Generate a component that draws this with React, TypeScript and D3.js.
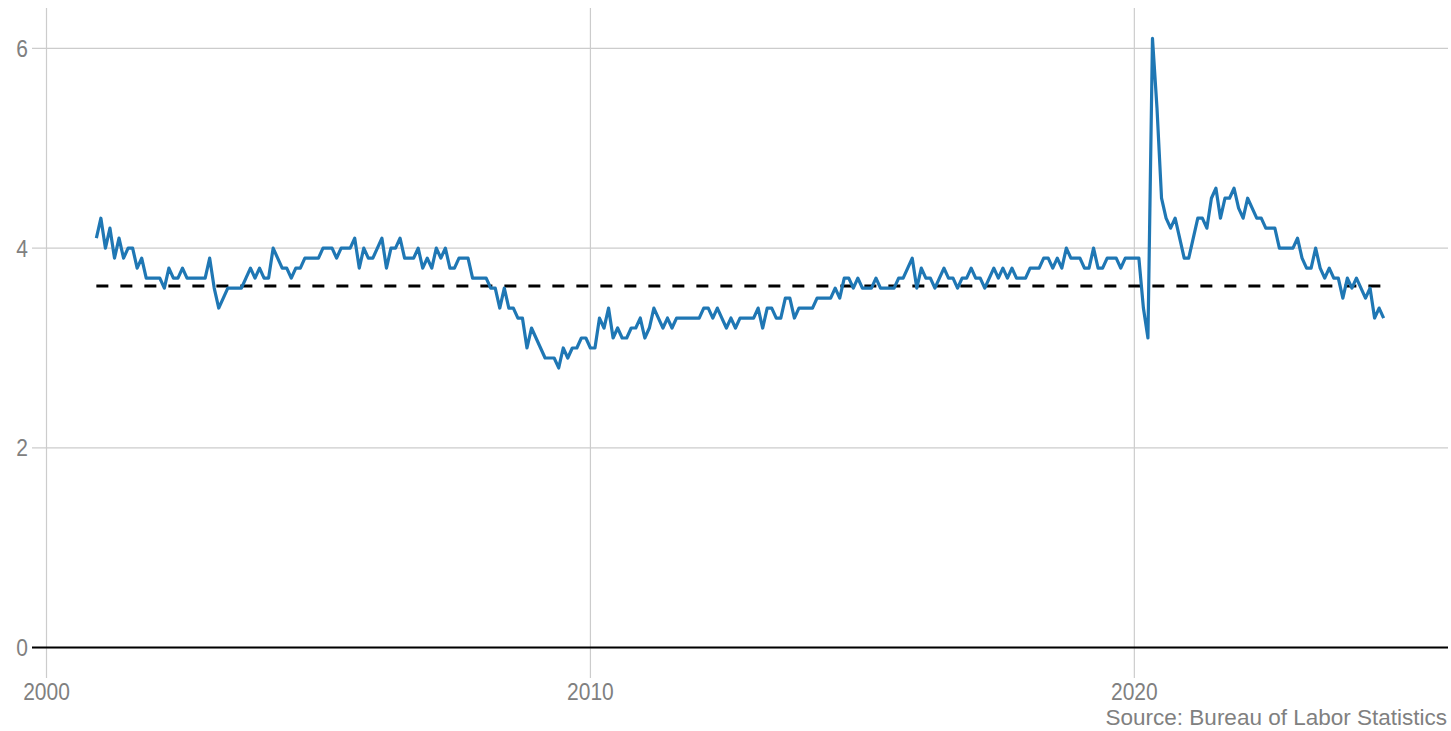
import React, { useEffect, useRef } from 'react';
import * as d3 from 'd3';

// monthly series, first point is Dec 2000
const startYear = 2000;
const startMonth = 11; // 0-based, December

const rates: number[] = [
  4.1,
  4.3, 4.0, 4.2, 3.9, 4.1, 3.9, 4.0, 4.0, 3.8, 3.9, 3.7, 3.7,
  3.7, 3.7, 3.6, 3.8, 3.7, 3.7, 3.8, 3.7, 3.7, 3.7, 3.7, 3.7,
  3.9, 3.6, 3.4, 3.5, 3.6, 3.6, 3.6, 3.6, 3.7, 3.8, 3.7, 3.8,
  3.7, 3.7, 4.0, 3.9, 3.8, 3.8, 3.7, 3.8, 3.8, 3.9, 3.9, 3.9,
  3.9, 4.0, 4.0, 4.0, 3.9, 4.0, 4.0, 4.0, 4.1, 3.8, 4.0, 3.9,
  3.9, 4.0, 4.1, 3.8, 4.0, 4.0, 4.1, 3.9, 3.9, 3.9, 4.0, 3.8,
  3.9, 3.8, 4.0, 3.9, 4.0, 3.8, 3.8, 3.9, 3.9, 3.9, 3.7, 3.7,
  3.7, 3.7, 3.6, 3.6, 3.4, 3.6, 3.4, 3.4, 3.3, 3.3, 3.0, 3.2,
  3.1, 3.0, 2.9, 2.9, 2.9, 2.8, 3.0, 2.9, 3.0, 3.0, 3.1, 3.1,
  3.0, 3.0, 3.3, 3.2, 3.4, 3.1, 3.2, 3.1, 3.1, 3.2, 3.2, 3.3,
  3.1, 3.2, 3.4, 3.3, 3.2, 3.3, 3.2, 3.3, 3.3, 3.3, 3.3, 3.3,
  3.3, 3.4, 3.4, 3.3, 3.4, 3.3, 3.2, 3.3, 3.2, 3.3, 3.3, 3.3,
  3.3, 3.4, 3.2, 3.4, 3.4, 3.3, 3.3, 3.5, 3.5, 3.3, 3.4, 3.4,
  3.4, 3.4, 3.5, 3.5, 3.5, 3.5, 3.6, 3.5, 3.7, 3.7, 3.6, 3.7,
  3.6, 3.6, 3.6, 3.7, 3.6, 3.6, 3.6, 3.6, 3.7, 3.7, 3.8, 3.9,
  3.6, 3.8, 3.7, 3.7, 3.6, 3.7, 3.8, 3.7, 3.7, 3.6, 3.7, 3.7,
  3.8, 3.7, 3.7, 3.6, 3.7, 3.8, 3.7, 3.8, 3.7, 3.8, 3.7, 3.7,
  3.7, 3.8, 3.8, 3.8, 3.9, 3.9, 3.8, 3.9, 3.8, 4.0, 3.9, 3.9,
  3.9, 3.8, 3.8, 4.0, 3.8, 3.8, 3.9, 3.9, 3.9, 3.8, 3.9, 3.9,
  3.9, 3.9, 3.4, 3.1, 6.1, 5.4, 4.5, 4.3, 4.2, 4.3, 4.1, 3.9,
  3.9, 4.1, 4.3, 4.3, 4.2, 4.5, 4.6, 4.3, 4.5, 4.5, 4.6, 4.4,
  4.3, 4.5, 4.4, 4.3, 4.3, 4.2, 4.2, 4.2, 4.0, 4.0, 4.0, 4.0,
  4.1, 3.9, 3.8, 3.8, 4.0, 3.8, 3.7, 3.8, 3.7, 3.7, 3.5, 3.7,
  3.6, 3.7, 3.6, 3.5, 3.6, 3.3, 3.4, 3.3,
];

// dashed reference level
const averageRate = 3.62;

const xTicks = [2000, 2010, 2020];
const yTicks = [0, 2, 4, 6];
const sourceText = 'Source: Bureau of Labor Statistics';

const W = 1451;
const H = 731;

export default function App() {
  const ref = useRef<SVGSVGElement>(null);

  useEffect(() => {
    document.body.style.margin = '0';
    const svg = d3.select(ref.current);
    svg.selectAll('*').remove();

    const data = rates.map((v, i) => ({ t: startYear + (startMonth + i) / 12, v }));

    const tMin = d3.min(data, d => d.t)!;
    const tMax = d3.max(data, d => d.t)!;
    const padX = (tMax - tMin) * 0.05;
    const vMax = d3.max(rates)!;
    const padY = vMax * 0.05;

    const x = d3.scaleLinear()
      .domain([tMin - padX, tMax + padX])
      .range([32, 1448]);
    const y = d3.scaleLinear()
      .domain([-padY, vMax + padY])
      .range([678, 8]);

    const font = 'Liberation Sans, Arial, sans-serif';
    const labelColor = '#808080';

    // grid
    svg.append('g')
      .selectAll('line')
      .data(yTicks)
      .join('line')
      .attr('x1', x.range()[0])
      .attr('x2', x.range()[1])
      .attr('y1', d => y(d))
      .attr('y2', d => y(d))
      .attr('stroke', '#cccccc')
      .attr('stroke-width', 1.2);

    svg.append('g')
      .selectAll('line')
      .data(xTicks)
      .join('line')
      .attr('x1', d => x(d))
      .attr('x2', d => x(d))
      .attr('y1', y.range()[1])
      .attr('y2', y.range()[0])
      .attr('stroke', '#cccccc')
      .attr('stroke-width', 1.2);

    // zero line
    svg.append('line')
      .attr('x1', x.range()[0])
      .attr('x2', x.range()[1])
      .attr('y1', y(0))
      .attr('y2', y(0))
      .attr('stroke', '#000')
      .attr('stroke-width', 2);

    // average
    svg.append('line')
      .attr('x1', x(tMin))
      .attr('x2', x(tMax))
      .attr('y1', y(averageRate))
      .attr('y2', y(averageRate))
      .attr('stroke', '#000')
      .attr('stroke-width', 3)
      .attr('stroke-dasharray', '12,12');

    const line = d3.line<{ t: number; v: number }>()
      .x(d => x(d.t))
      .y(d => y(d.v));

    svg.append('path')
      .datum(data)
      .attr('fill', 'none')
      .attr('stroke', '#1f77b4')
      .attr('stroke-width', 3.2)
      .attr('stroke-linejoin', 'round')
      .attr('d', line);

    // tick labels (text looks slightly stretched vertically in the original)
    svg.append('g')
      .selectAll('text')
      .data(yTicks)
      .join('text')
      .attr('transform', d => `translate(28,${y(d)}) scale(1,1.12)`)
      .attr('dy', '0.36em')
      .attr('text-anchor', 'end')
      .attr('fill', labelColor)
      .attr('font-family', font)
      .attr('font-size', 21)
      .text(d => d);

    svg.append('g')
      .selectAll('text')
      .data(xTicks)
      .join('text')
      .attr('transform', d => `translate(${x(d)},700) scale(1,1.12)`)
      .attr('text-anchor', 'middle')
      .attr('fill', labelColor)
      .attr('font-family', font)
      .attr('font-size', 21)
      .text(d => d);

    svg.append('text')
      .attr('x', 1447)
      .attr('y', 725)
      .attr('text-anchor', 'end')
      .attr('fill', labelColor)
      .attr('font-family', font)
      .attr('font-size', 22.5)
      .text(sourceText);
  }, []);

  return (
    <svg
      ref={ref}
      width={W}
      height={H}
      style={{ position: 'absolute', left: 0, top: 0, background: '#fff' }}
    />
  );
}
